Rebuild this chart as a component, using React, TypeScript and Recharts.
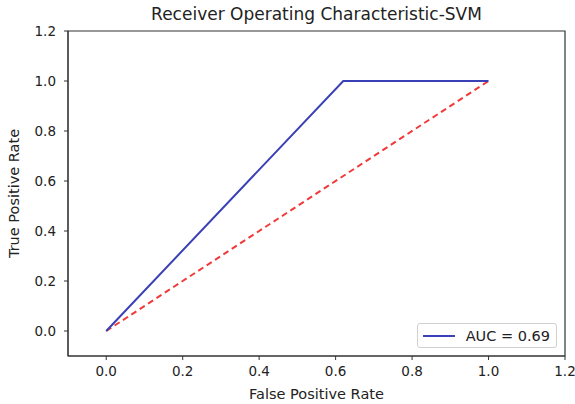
import { LineChart, Line, XAxis, YAxis, ReferenceArea, Legend } from "recharts";

const fpr = [0, 0.62, 1];
const tpr = [0, 1, 1];
const diagX = [0, 1];
const diagY = [0, 1];
const ticks = [0, 0.2, 0.4, 0.6, 0.8, 1.0, 1.2];
const aucLabel = "AUC = 0.69";

const rocData = fpr.map((x, i) => ({ x, y: tpr[i] }));
const diagData = diagX.map((x, i) => ({ x, y: diagY[i] }));

const FONT = "'DejaVu Sans', sans-serif";
const AXIS = "#333";
const TEXT = "#222";

const LegendBox = () => (
  <div
    style={{
      display: "flex",
      alignItems: "center",
      border: "1px solid #d0d0d0",
      borderRadius: 3,
      background: "#fff",
      padding: "0 6px 0 5px",
      height: 25,
      fontFamily: FONT,
      fontSize: 14.5,
      color: TEXT,
      width: 140,
      boxSizing: "border-box",
      whiteSpace: "nowrap",
    }}
  >
    <span style={{ display: "inline-block", width: 32, height: 2, background: "#3a40b5", marginRight: 11 }} />
    <span>{aucLabel}</span>
  </div>
);

const App = () => {
  return (
    <div style={{ position: "absolute", left: 0, top: 0, background: "#fff" }}>
      <div
        style={{
          position: "absolute",
          top: 4,
          left: 68,
          width: 497,
          textAlign: "center",
          fontFamily: FONT,
          fontSize: 17,
          color: TEXT,
        }}
      >
        Receiver Operating Characteristic-SVM
      </div>
      <LineChart width={575} height={404} margin={{ top: 31, right: 10, left: 0, bottom: 0 }}>
        <XAxis
          type="number"
          dataKey="x"
          domain={[-0.1, 1.2]}
          ticks={ticks}
          allowDataOverflow
          tickFormatter={(v: number) => v.toFixed(1)}
          height={48}
          tickSize={4}
          tickMargin={6}
          stroke={AXIS}
          tick={{ fill: TEXT, fontSize: 13.5, fontFamily: FONT }}
          label={{ value: "False Positive Rate", position: "insideBottom", offset: 5, fill: TEXT, fontSize: 14.5, fontFamily: FONT }}
        />
        <YAxis
          type="number"
          dataKey="y"
          domain={[-0.1, 1.2]}
          ticks={ticks}
          allowDataOverflow
          tickFormatter={(v: number) => v.toFixed(1)}
          width={68}
          tickSize={4}
          tickMargin={8}
          stroke={AXIS}
          tick={{ fill: TEXT, fontSize: 13.5, fontFamily: FONT }}
          label={{ value: "True Positive Rate", angle: -90, position: "insideLeft", offset: 14, style: { textAnchor: "middle" }, fill: TEXT, fontSize: 14.5, fontFamily: FONT }}
        />
        <ReferenceArea x1={-0.1} x2={1.2} y1={-0.1} y2={1.2} fill="none" stroke={AXIS} strokeWidth={1.2} ifOverflow="visible" />
        <Line
          data={diagData}
          dataKey="y"
          type="linear"
          stroke="#f03a3a"
          strokeWidth={2}
          strokeDasharray="6 4"
          dot={false}
          isAnimationActive={false}
          legendType="none"
        />
        <Line
          data={rocData}
          dataKey="y"
          type="linear"
          stroke="#3a40b5"
          strokeWidth={2}
          dot={false}
          isAnimationActive={false}
        />
        <Legend
          layout="horizontal"
          verticalAlign="middle"
          align="center"
          content={<LegendBox />}
          wrapperStyle={{ left: 417, top: 323, width: 140 }}
        />
      </LineChart>
    </div>
  );
};

export default App;
